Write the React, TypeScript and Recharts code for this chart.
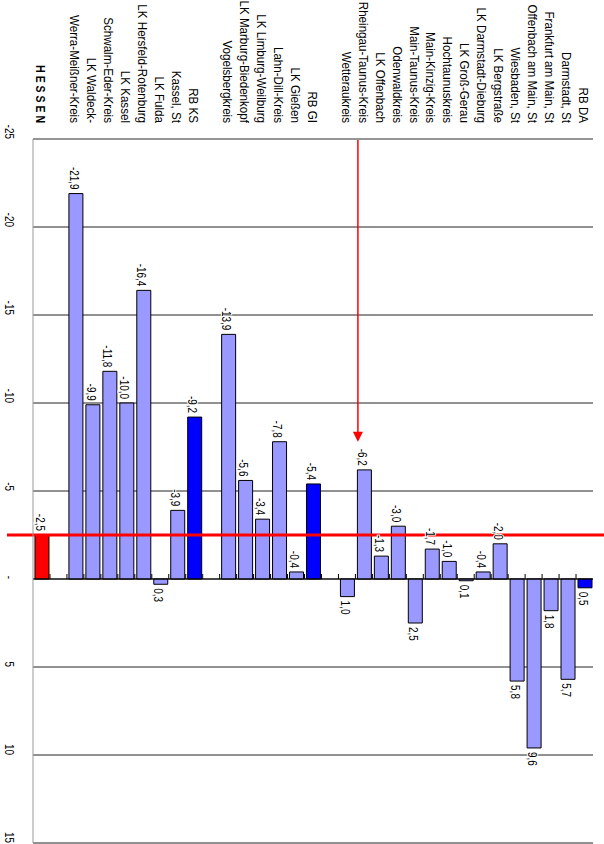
import { BarChart, Bar, XAxis, YAxis, CartesianGrid, ReferenceLine, LabelList, Cell } from 'recharts';

// Regionen, von links (Hessen) nach rechts (RB DA); leere Namen = Abstandhalter
const regionen = [
  'H E S S E N', ' ',
  'Werra-Meißner-Kreis', 'LK Waldeck-', 'Schwalm-Eder-Kreis', 'LK Kassel', 'LK Hersfeld-Rotenburg',
  'LK Fulda', 'Kassel, St', 'RB KS', '  ',
  'Vogelsbergkreis', 'LK Marburg-Biedenkopf', 'LK Limburg-Weilburg', 'Lahn-Dill-Kreis', 'LK Gießen',
  'RB GI', '   ',
  'Wetteraukreis', 'Rheingau-Taunus-Kreis', 'LK Offenbach', 'Odenwaldkreis', 'Main-Taunus-Kreis',
  'Main-Kinzig-Kreis', 'Hochtaunuskreis', 'LK Groß-Gerau', 'LK Darmstadt-Dieburg', 'LK Bergstraße',
  'Wiesbaden, St', 'Offenbach am Main, St', 'Frankfurt am Main, St', 'Darmstadt, St', 'RB DA',
];

const veraenderung: (number | null)[] = [
  -2.5, null,
  -21.9, -9.9, -11.8, -10.0, -16.4,
  0.3, -3.9, -9.2, null,
  -13.9, -5.6, -3.4, -7.8, -0.4,
  -5.4, null,
  1.0, -6.2, -1.3, -3.0, 2.5,
  -1.7, -1.0, 0.1, -0.4, -2.0,
  5.8, 9.6, 1.8, 5.7, 0.5,
];

const achsenTicks = [-25, -20, -15, -10, -5, 0, 5, 10, 15];

const landesWert = -2.5;
const pfeilZiel = 'Rheingau-Taunus-Kreis';
const pfeilEnde = -7.8;

// kein Narrow-Font installiert -> Schrift per scale() schmaler machen
const FONT = "'Liberation Sans', Arial, sans-serif";
const SCHMAL = 0.83;

const daten = regionen.map((name, i) => ({ name, wert: veraenderung[i] }));

const farbe = (name: string) => {
  if (name === 'H E S S E N') return '#ff0000';
  if (name.startsWith('RB ')) return '#0000ff';
  return '#9999ff';
};

const fmt = (v: number) => v.toFixed(1).replace('.', ',');

const WertLabel = (props: any) => {
  const value = props.value;
  if (value == null) return null;
  const vb = props.viewBox ?? props;
  const { x, y, width, height } = vb;
  const links = Math.min(x, x + width);
  const rechts = Math.max(x, x + width);
  const neg = value < 0;
  const tx = neg ? links - 4 : rechts + 4;
  return (
    <text
      transform={`translate(${tx} ${y + height / 2 + 2}) scale(${SCHMAL} 1)`}
      textAnchor={neg ? 'end' : 'start'}
      dominantBaseline="central"
      fontFamily={FONT}
      fontSize={12}
      fill="#000"
      stroke="#fff"
      strokeWidth={2}
      paintOrder="stroke"
    >
      {fmt(value)}
    </text>
  );
};

const KategorieTick = ({ x, y, payload }: any) => {
  const gesamt = payload.value === 'H E S S E N';
  return (
    <text
      transform={`translate(${x} ${y + 1}) scale(${gesamt ? 0.78 : 0.86} 1)`}
      textAnchor="end"
      dominantBaseline="central"
      fontFamily={FONT}
      fontSize={13.5}
      fontWeight={gesamt ? 'bold' : 'normal'}
      fill="#000"
    >
      {payload.value}
    </text>
  );
};

const WertTick = ({ x, y, payload }: any) => (
  <text
    transform={`translate(${x} ${y}) scale(${SCHMAL} 1)`}
    dy="0.71em"
    textAnchor="end"
    fontFamily={FONT}
    fontSize={12}
    fill="#000"
  >
    {payload.value === 0 ? '-' : payload.value}
  </text>
);

// Nulllinie mit kleinen Teilstrichen zwischen den Kategorien
const NullLinie = (p: any) => {
  const oben = Math.min(p.y1, p.y2);
  const unten = Math.max(p.y1, p.y2);
  const schritt = (unten - oben) / regionen.length;
  return (
    <g>
      <line x1={p.x1} x2={p.x2} y1={oben} y2={unten} stroke="#000" strokeWidth={1} />
      {regionen.slice(1).map((_, i) => (
        <line
          key={i}
          x1={p.x1 - 5}
          x2={p.x1}
          y1={oben + (i + 1) * schritt}
          y2={oben + (i + 1) * schritt}
          stroke="#000"
          strokeWidth={1}
        />
      ))}
    </g>
  );
};

// Landesdurchschnitt, geht über den Plotbereich hinaus
const LandesLinie = (p: any) => (
  <line x1={p.x1} x2={p.x2} y1={0} y2={Math.max(p.y1, p.y2) + 26} stroke="#ff0000" strokeWidth={3} />
);

const Pfeil = (p: any) => {
  const y = p.y1 + 6;
  return (
    <g>
      <line x1={p.x1 + 1} x2={p.x2 - 9} y1={y} y2={y} stroke="#ff0000" strokeWidth={1.5} />
      <polygon points={`${p.x2 - 10},${y - 5} ${p.x2},${y} ${p.x2 - 10},${y + 5}`} fill="#ff0000" />
    </g>
  );
};

export default function App() {
  return (
    <div style={{ position: 'absolute', left: 0, top: 0, width: 604, height: 844, overflow: 'hidden', background: '#fff' }}>
      <div
        style={{
          position: 'absolute',
          left: 0,
          top: 0,
          width: 844,
          height: 604,
          transformOrigin: '0 0',
          transform: 'translate(604px, 0) rotate(90deg)',
        }}
      >
        <BarChart
          width={844}
          height={604}
          data={daten}
          layout="vertical"
          margin={{ top: 11, right: 1, bottom: 0, left: 0 }}
        >
          <CartesianGrid horizontal={false} stroke="#222" />
          <XAxis
            type="number"
            domain={[-25, 15]}
            ticks={achsenTicks}
            allowDataOverflow
            interval={0}
            height={33}
            axisLine={{ stroke: '#999' }}
            tickLine={false}
            tickSize={0}
            tickMargin={19}
            tick={<WertTick />}
          />
          <XAxis
            xAxisId="oben"
            orientation="top"
            type="number"
            domain={[-25, 15]}
            height={0}
            tick={false}
            tickLine={false}
            axisLine={{ stroke: '#555' }}
          />
          <YAxis
            type="category"
            dataKey="name"
            reversed
            width={139}
            interval={0}
            axisLine={{ stroke: '#999' }}
            tickLine={false}
            tickSize={0}
            tickMargin={16}
            tick={<KategorieTick />}
          />
          <Bar dataKey="wert" barSize={14} stroke="#000" strokeWidth={1} isAnimationActive={false}>
            {daten.map((d) => (
              <Cell key={d.name} fill={farbe(d.name)} />
            ))}
            <LabelList dataKey="wert" content={<WertLabel />} />
          </Bar>
          <ReferenceLine x={0} shape={<NullLinie />} />
          <ReferenceLine x={landesWert} shape={<LandesLinie />} />
          <ReferenceLine
            segment={[
              { x: -25, y: pfeilZiel },
              { x: pfeilEnde, y: pfeilZiel },
            ]}
            shape={<Pfeil />}
          />
        </BarChart>
      </div>
    </div>
  );
}
